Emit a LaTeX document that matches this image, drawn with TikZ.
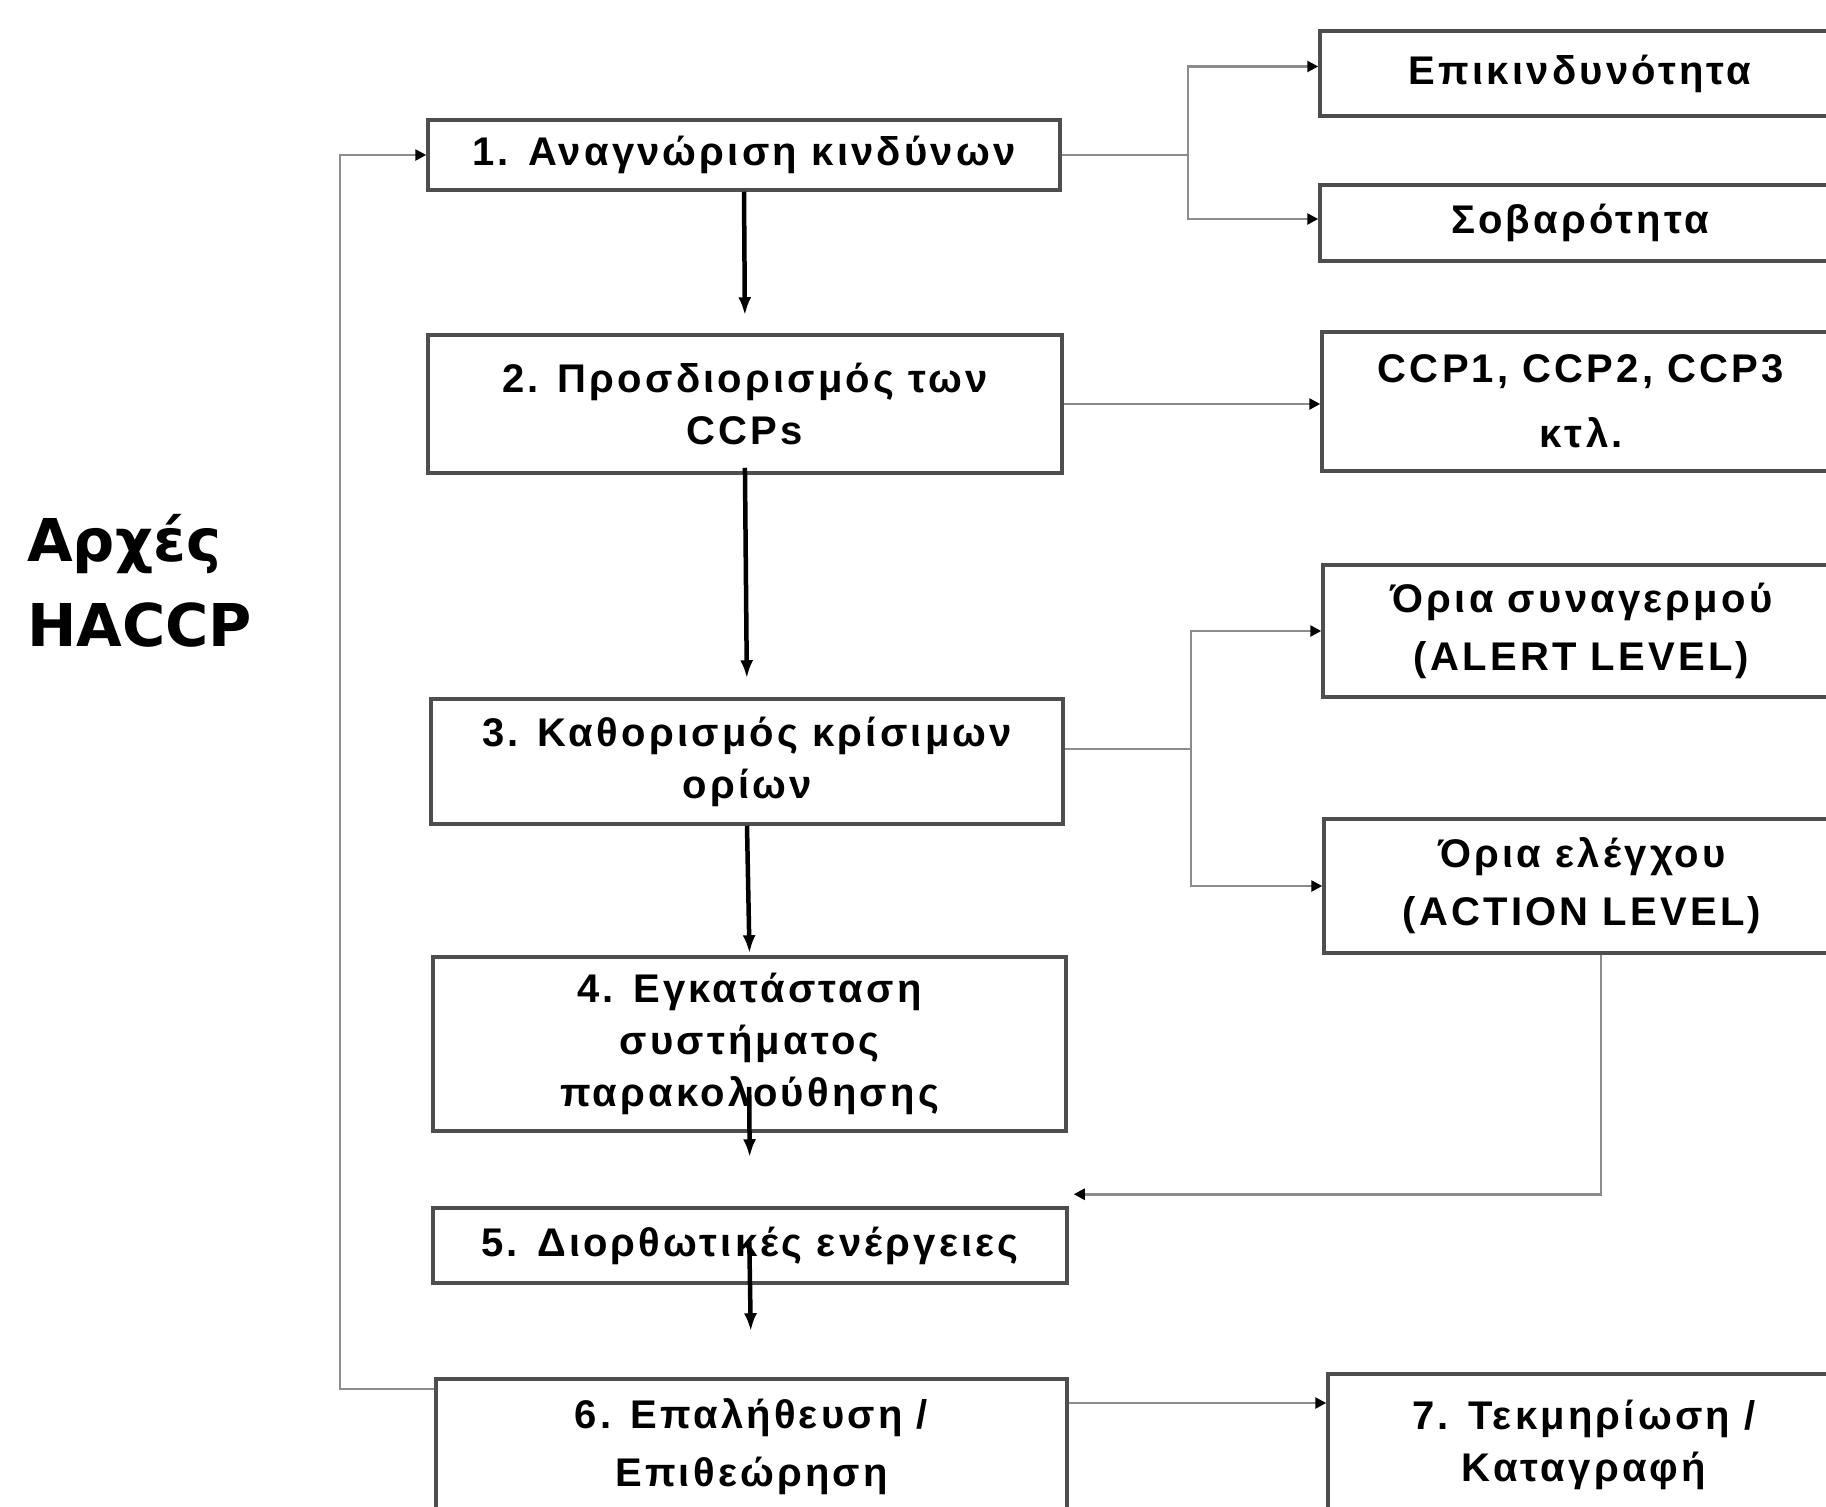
\documentclass[tikz,border=0pt]{standalone}
\usepackage{fontspec}
\setmainfont{Liberation Sans}
\newfontfamily\boxfont[LetterSpace=8]{Liberation Sans}
\newfontfamily\titlefont{DejaVu Sans}
\usetikzlibrary{arrows.meta}
\definecolor{framegray}{HTML}{4E4E4E}
\definecolor{linkgray}{HTML}{8C8C8C}
\begin{document}
\begin{tikzpicture}[x=1pt,y=-1pt,
  box/.style={draw=framegray, line width=3.5pt, fill=white, align=center,
    inner sep=0pt, font={\boxfont\bfseries\fontsize{40pt}{52pt}\selectfont}},
  flow/.style={black, line width=4.5pt, -{Latex[length=18pt,width=13pt]}},
  link/.style={linkgray, line width=2.5pt},
  linkarrow/.style={link, -{Triangle[length=11pt,width=11pt,color=black]}}
]
\fill[white] (0,0) rectangle (1826,1507);
\useasboundingbox (0,0) rectangle (1826,1507);

% left title
\node[anchor=west, align=left, inner sep=0pt,
  font={\titlefont\bfseries\fontsize{59pt}{85pt}\selectfont}] (title) at (27,581)
  {Αρχές\\HACCP};

% main column of steps
\node[box, minimum width=632pt, minimum height=70pt]  (b1) at (744,155)    {1. Αναγνώριση κινδύνων};
\node[box, minimum width=634pt, minimum height=138pt] (b2) at (745,404)    {2. Προσδιορισμός των\\CCPs};
\node[box, minimum width=632pt, minimum height=125pt] (b3) at (747,761.5)  {3. Καθορισμός κρίσιμων\\ορίων};
\node[box, minimum width=633pt, minimum height=174pt] (b4) at (749.5,1044) {4. Εγκατάσταση\\συστήματος\\παρακολούθησης};
\node[box, minimum width=634pt, minimum height=75pt]  (b5) at (750,1245.5) {5. Διορθωτικές ενέργειες};
\node[box, minimum width=631pt, minimum height=136pt] (b6) at (751.5,1447) {6. Επαλήθευση /\\[6pt]Επιθεώρηση};

% right column of outcomes
\node[box, minimum width=520pt, minimum height=85pt]  (r1) at (1580,73.5) {Επικινδυνότητα};
\node[box, minimum width=520pt, minimum height=76pt]  (r2) at (1580,223)  {Σοβαρότητα};
\node[box, minimum width=518pt, minimum height=139pt] (r3) at (1581,401.5) {CCP1, CCP2, CCP3\\[13pt]κτλ.};
\node[box, minimum width=517pt, minimum height=132pt] (r4) at (1581.5,631) {Όρια συναγερμού\\[6pt](ALERT LEVEL)};
\node[box, minimum width=516pt, minimum height=134pt] (r5) at (1582,886)  {Όρια ελέγχου\\[6pt](ACTION LEVEL)};
\node[box, minimum width=512pt, minimum height=142pt] (r7) at (1584,1445) {7. Τεκμηρίωση /\\Καταγραφή};

% junctions and bends of the thin links
\coordinate (j1) at (1188,155);
\coordinate (j3) at (1191,749);
\coordinate (loop) at (340,155);

% thin links to the right column
\draw[link] (b1.east) -- (j1);
\draw[linkarrow] (j1) |- ([yshift=7pt]r1.west);
\draw[linkarrow] (j1) |- ([yshift=4pt]r2.west);
\draw[linkarrow] (b2.east) -- (b2.east -| r3.west);
\draw[link] ([yshift=12.5pt]b3.east) -- (j3);
\draw[linkarrow] (j3) |- (r4.west);
\draw[linkarrow] (j3) |- (r5.west);
\draw[linkarrow] ([xshift=19pt]r5.south) |- ([shift={(5pt,12pt)}]b5.north east);
\draw[linkarrow] ([yshift=44pt]b6.east) -- ([yshift=44pt]b6.east -| r7.west);

% feedback loop back to the first step
\draw[linkarrow] ([yshift=58pt]b6.west) -| (loop) -- (b1.west);

% main flow
\draw[flow, shorten >=18pt] (b1.south) -- (b2.north);
\draw[flow, shorten <=-7pt, shorten >=19pt] (b2.south) -- (b3.north);
\draw[flow, shorten >=2pt] (b3.south) -- (b4.north);
\draw[flow, shorten <=-46pt, shorten >=49pt] (b4.south) -- (b5.north);
\draw[flow, shorten <=-43pt, shorten >=46pt] (b5.south) -- (b6.north);
\end{tikzpicture}
\end{document}
